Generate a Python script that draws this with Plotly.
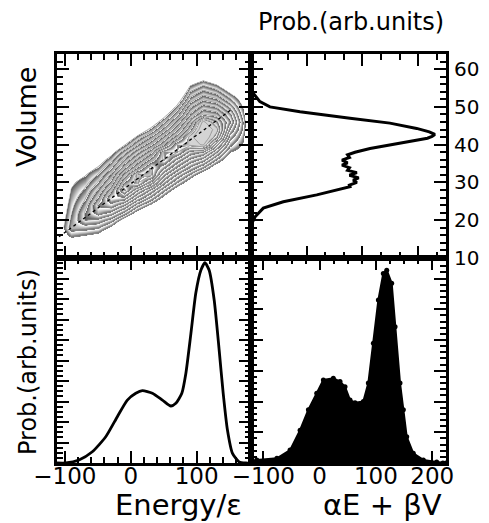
import plotly.graph_objects as go

# ---------------- data ----------------
# joint distribution grid: Energy columns, Volume rows
grid_E = [-130, -110, -90, -70, -50, -30, -10, 10, 30, 50, 70, 90, 110, 130, 150, 170, 190]
grid_V = [12, 14, 16, 18, 20, 22, 24, 26, 28, 30, 32, 34, 36, 38, 40, 42, 44, 46, 48, 50, 52, 54, 56, 58, 60, 62]
col_m130 = [-3] * 26
col_m110 = [-1.5, -0.9, -0.3, -0.12, -0.36, -0.6, -0.84, -1.08, -1.32, -1.56, -1.8, -2.04, -2.28,
            -2.52, -2.76, -3.0, -3.24, -3.48, -3.72, -3.96, -4.2, -4.44, -4.68, -4.92, -5.16, -5.4]
col_m90 = [-1.25, 0, 1.25, 2.5, 2.21, 1.92, 1.64, 1.35, 1.06, 0.77, 0.48, 0.2, -0.09,
           -0.38, -0.67, -0.96, -1.24, -1.53, -1.82, -2.11, -2.4, -2.68, -2.97, -3.26, -3.55, -3.84]
col_m70 = [-2.34, -0.75, 0.84, 2.43, 4.02, 4.05, 3.42, 2.78, 2.15, 1.51, 0.87, 0.24, -0.4,
           -1.03, -1.67, -2.31, -2.94, -3.58, -4.21, -4.85, -5.49, -6.12, -6.76, -7.39, -8.03, -8.67]
col_m50 = [-2.98, -1.28, 0.41, 2.1, 3.79, 5.48, 6.1, 5.09, 4.08, 3.07, 2.06, 1.05, 0.04,
           -0.97, -1.98, -2.99, -4.0, -5.01, -6.02, -7.03, -8.04, -9.06, -10.07, -11.08, -12.09, -13.1]
col_m30 = [-5.6, -3.55, -1.49, 0.58, 2.63, 4.7, 6.76, 7.98, 6.71, 5.44, 4.17, 2.9, 1.63,
           0.36, -0.91, -2.18, -3.45, -4.72, -5.99, -7.26, -8.53, -9.8, -11.07, -12.34, -13.61, -14.88]
col_m10 = [-9.73, -7.23, -4.74, -2.24, 0.25, 2.74, 5.24, 7.73, 10.25, 9.18, 7.51, 5.84, 4.17,
           2.5, 0.83, -0.84, -2.51, -4.18, -5.85, -7.52, -9.19, -10.86, -12.53, -14.2, -15.87, -17.54]
col_p10 = [-11.39, -9.06, -6.72, -4.38, -2.04, 0.3, 2.63, 4.97, 7.31, 10.3, 10.3, 8.06, 6.36,
           4.66, 2.96, 1.25, -0.45, -2.15, -3.85, -5.55, -7.26, -8.96, -10.66, -12.36, -14.06, -15.76]
col_p30 = [-11.96, -9.85, -7.75, -5.64, -3.53, -1.42, 0.69, 2.79, 4.9, 7.6, 10.3, 10.35, 8.48,
           6.7, 4.92, 3.14, 1.35, -0.43, -2.21, -3.99, -5.77, -7.55, -9.33, -11.1, -12.9, -14.7]
col_p50 = [-13.29, -11.34, -9.38, -7.42, -5.46, -3.5, -1.55, 0.41, 2.37, 4.33, 6.29, 8.24, 10.15,
           10.05, 7.0, 5.31, 3.62, 1.93, 0.24, -1.45, -3.14, -4.84, -6.53, -8.22, -9.91, -11.6]
col_p70 = [-15.48, -13.54, -11.6, -9.66, -7.73, -5.79, -3.85, -1.91, 0.03, 1.97, 3.9, 5.84, 7.78,
           10.1, 10.05, 7.62, 6.04, 4.47, 2.89, 1.32, -0.26, -1.84, -3.42, -4.99, -6.57, -8.15]
col_p90 = [-17.7, -15.76, -13.8, -11.84, -9.88, -7.92, -5.96, -4.0, -2.04, -0.08, 1.88, 3.84, 5.8,
           7.76, 10.3, 10.6, 8.96, 7.58, 6.19, 4.81, 3.43, 2.04, 0.66, -0.73, -2.11, -3.5]
col_p110 = [-24.8, -22.36, -19.9, -17.46, -15.0, -12.57, -10.13, -7.68, -5.23, -2.79, -0.34, 2.1, 4.55,
            7.0, 11.2, 12.3, 12.0, 11.3, 8.1, 6.51, 4.91, 3.31, 1.71, 0.12, -1.48, -3.08]
col_p130 = [-24.97, -22.7, -20.5, -18.2, -16.0, -13.7, -11.5, -9.2, -7.0, -4.7, -2.5, -0.24, 2.0,
            4.26, 6.5, 9.5, 10.6, 9.31, 7.61, 5.92, 4.22, 2.53, 0.84, -0.86, -2.55, -4.25]
col_p150 = [-15.8, -14.5, -13.2, -11.9, -10.6, -9.35, -8.06, -6.76, -5.47, -4.18, -2.88, -1.59, -0.29,
            1.0, 2.29, 3.59, 4.88, 6.18, 5.34, 3.79, 2.24, 0.69, -0.86, -2.41, -3.96, -5.51]
col_p170 = [-6.34, -5.83, -5.32, -4.81, -4.3, -3.79, -3.29, -2.77, -2.26, -1.75, -1.24, -0.73, -0.22,
            0.29, 0.8, 1.31, 1.82, 2.05, 1.45, 0.85, 0.25, -0.35, -0.95, -1.55, -2.15, -2.75]
col_p190 = [-4] * 26
columns = [col_m130, col_m110, col_m90, col_m70, col_m50, col_m30, col_m10, col_p10,
           col_p30, col_p50, col_p70, col_p90, col_p110, col_p130, col_p150, col_p170, col_p190]
Z = [[columns[j][i] for j in range(len(grid_E))] for i in range(len(grid_V))]

# dotted guide line in the contour panel
guide_E = [-109, 152]
guide_V = [15.6, 49.2]

# energy distribution
energy = [-112, -98.8, -78.6, -58.4, -38, -20.4, -5.2, 7.6, 17.6, 32.8, 48, 60.8, 68.4, 77.5,
          83.6, 91.2, 98.8, 106.4, 112.5, 119, 126.6, 134.2, 140.3, 146.8, 154.4, 164.6, 174.8, 182.5]
prob_energy = [0, 0, 0.015, 0.055, 0.128, 0.226, 0.307, 0.34, 0.353, 0.34, 0.307, 0.278, 0.291, 0.34,
               0.437, 0.63, 0.83, 0.94, 0.977, 0.94, 0.795, 0.55, 0.34, 0.16, 0.047, 0.005, 0, 0]

# volume distribution
volume = [64, 55.3, 53.6, 51.4, 50.0, 48.7, 47.0, 45.7, 44.3, 43.4, 42.7, 42.2, 41.7, 40.4, 39.0, 38.0,
          37.3, 36.6, 35.9, 35.2, 34.6, 33.9, 33.2, 32.6, 31.9, 31.2, 30.6, 30.0, 29.3, 28.9,
          26.7, 24.9, 23.2, 20.9, 19.1, 17.4, 10]
prob_volume = [0, 0, 0.012, 0.048, 0.102, 0.264, 0.533, 0.748, 0.892, 0.96, 0.99, 0.975, 0.95, 0.802, 0.641, 0.56,
               0.52, 0.53, 0.49, 0.52, 0.49, 0.53, 0.52, 0.57, 0.53, 0.58, 0.55, 0.57, 0.53, 0.533,
               0.354, 0.174, 0.066, 0.022, 0.004, 0, 0]

# combined variable histogram
combo = [-122, -111.7, -76, -52.6, -34.8, -20, -5.2, 6.6, 24.3, 36.2, 45.1, 54, 62.9, 77.6, 86.5,
         95.4, 104.3, 113.1, 119.2, 128, 134, 142.8, 148.7, 154.7, 166.4, 184.2, 208, 219, 224.5]
prob_combo = [0.01, 0.015, 0.023, 0.063, 0.16, 0.26, 0.34, 0.405, 0.413, 0.397, 0.372, 0.307, 0.294, 0.3,
              0.39, 0.584, 0.795, 0.925, 0.94, 0.877, 0.665, 0.39, 0.26, 0.128, 0.047, 0.015, 0.005, 0, 0]

vol_ticks = [10, 20, 30, 40, 50, 60]
energy_ticks = [-100, 0, 100]
combo_ticks = [-100, 0, 100, 200]

# ---------------- figure ----------------
# the page body has an 8px margin, so the figure is drawn 8px smaller and all
# reference pixel positions are shifted by that offset
OFF = 8
W, H = 489 - OFF, 523 - OFF
FONT = "DejaVu Sans"


def fx(px):
    return (px - OFF) / W


def fy(py):
    return 1 - (py - OFF) / H


xl, xm, xr = fx(57), fx(251), fx(446)
yt, ym, yb = fy(54), fy(258), fy(463)

# sawtooth grey colorscale for shaded contour bands, light grey plateau on top
zmax = 13.0
cs = [[0.0, "#ffffff"]]
for k in range(1, 10):
    cs.append([(k - 0.03) / zmax, "#ffffff"])
    cs.append([k / zmax, "#5a5a5a"])
    cs.append([(k + 0.9) / zmax, "#ffffff"])
cs.append([9.97 / zmax, "#ffffff"])
cs.append([10 / zmax, "#808080"])
cs.append([10.35 / zmax, "#d4d4d4"])
cs.append([1.0, "#d4d4d4"])

fig = go.Figure()
fig.add_trace(go.Heatmap(
    x=grid_E, y=grid_V, z=Z, xaxis="x", yaxis="y", zsmooth="best",
    colorscale=cs, zmin=0, zmax=zmax, showscale=False, hoverinfo="skip"))
fig.add_trace(go.Contour(
    x=grid_E, y=grid_V, z=Z, xaxis="x", yaxis="y",
    contours=dict(start=1, end=11, size=1, coloring="none"),
    showscale=False, line=dict(color="#808080", width=0.7, smoothing=0),
    hoverinfo="skip"))
fig.add_trace(go.Scatter(x=guide_E, y=guide_V, mode="lines", xaxis="x", yaxis="y",
                         line=dict(color="black", width=1.3, dash="dot")))
fig.add_trace(go.Scatter(x=prob_volume, y=volume, mode="lines", xaxis="x2", yaxis="y2",
                         line=dict(color="black", width=3)))
fig.add_trace(go.Scatter(x=energy, y=prob_energy, mode="lines", xaxis="x3", yaxis="y3",
                         line=dict(color="black", width=2.8, shape="spline", smoothing=0.6)))
fig.add_trace(go.Scatter(x=combo, y=prob_combo, mode="lines+markers", xaxis="x4", yaxis="y4",
                         fill="tozeroy", fillcolor="black",
                         line=dict(color="black", width=2), marker=dict(size=5, color="black")))


def ax(**kw):
    d = dict(showline=True, linewidth=3, linecolor="black", mirror="allticks",
             ticks="inside", ticklen=12, tickwidth=1.5, tickcolor="black",
             showgrid=False, zeroline=False, showticklabels=False, automargin=False,
             tickfont=dict(family=FONT, size=23, color="black"))
    minor = kw.pop("minor_dtick", None)
    if minor is not None:
        d["minor"] = dict(ticks="inside", ticklen=6, tickwidth=1.5, tickcolor="black",
                          showgrid=False, dtick=minor)
    d.update(kw)
    return d


E_range = [-112, 182.5]
V_range = [10, 64]
fig.update_layout(
    template="none",
    width=W, height=H, margin=dict(l=0, r=0, t=0, b=0, pad=0), autosize=False,
    paper_bgcolor="white", plot_bgcolor="white", showlegend=False,
    xaxis=ax(domain=[xl, xm], anchor="y", range=E_range, tick0=0, dtick=100, minor_dtick=20),
    yaxis=ax(domain=[ym, yt], anchor="x", range=V_range, tick0=0, dtick=10, minor_dtick=2),
    xaxis2=ax(domain=[xm, xr], anchor="y2", range=[0, 1.05], tick0=0, dtick=0.3, minor_dtick=0.1),
    yaxis2=ax(domain=[ym, yt], anchor="x2", range=V_range, side="right",
              tickmode="array", tickvals=vol_ticks, showticklabels=True,
              ticklabelstandoff=1, minor_dtick=2,
              tickfont=dict(family=FONT, size=20, color="black")),
    xaxis3=ax(domain=[xl, xm], anchor="y3", range=E_range, showticklabels=True,
              tickmode="array", tickvals=energy_ticks, minor_dtick=20, ticklabelstandoff=-10),
    yaxis3=ax(domain=[yb, ym], anchor="x3", range=[0, 1], tick0=0, dtick=0.1, minor_dtick=0.025),
    xaxis4=ax(domain=[xm, xr], anchor="y4", range=[-122, 224.5], showticklabels=True,
              tickmode="array", tickvals=combo_ticks, minor_dtick=25, ticklabelstandoff=-10),
    yaxis4=ax(domain=[yb, ym], anchor="x4", range=[0, 1], tick0=0, dtick=0.15, minor_dtick=0.03),
)


def ann(text, px, py, size, angle=0, xanchor="center"):
    fig.add_annotation(text=text, xref="paper", yref="paper", x=fx(px), y=fy(py),
                       xanchor=xanchor, yanchor="middle", showarrow=False, textangle=angle,
                       font=dict(family=FONT, size=size, color="black"))


ann("Volume", 26, 117, 27, angle=-90)
ann("Prob.(arb.units)", 28, 362, 24, angle=-90)
ann("Prob.(arb.units)", 446, 22, 24, xanchor="right")
ann("Energy/ε", 178, 505, 29)
ann("αE + βV", 382, 505, 29)

fig.write_html("out.html")
